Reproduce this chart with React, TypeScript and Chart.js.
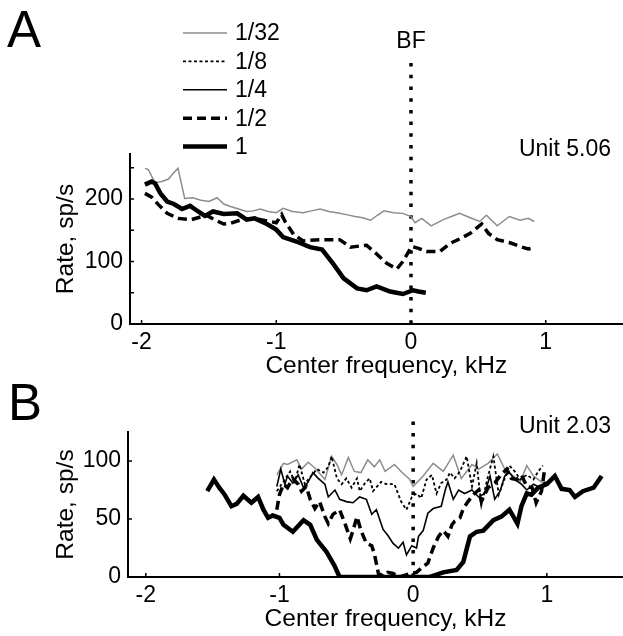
import React, { useEffect, useRef } from 'react';
import { Chart, registerables } from 'chart.js';

Chart.register(...registerables);

// ---------------- DATA ----------------
const SERIES_LABELS = ['1/32', '1/8', '1/4', '1/2', '1'];

// Panel A (Unit 5.06)
const A_F32_X = [-1.975, -1.95, -1.9, -1.85, -1.8, -1.77, -1.73, -1.68, -1.62, -1.56, -1.5, -1.44, -1.39, -1.34, -1.28, -1.22, -1.17, -1.12, -1.06, -1.0, -0.95, -0.88, -0.8, -0.74, -0.675, -0.61, -0.55, -0.48, -0.415, -0.36, -0.3, -0.25, -0.2, -0.13, -0.06, 0.0, 0.03, 0.08, 0.15, 0.24, 0.3, 0.36, 0.44, 0.51, 0.56, 0.64, 0.73, 0.81, 0.87, 0.915];
const A_F32_Y = [249, 247, 226, 228, 232, 240, 249, 201, 202, 198, 196, 202, 192, 188, 184, 180, 181, 184, 180, 178, 185, 180, 178, 181, 184, 180, 178, 175, 172, 170, 166, 174, 181, 178, 177, 172, 162, 169, 157, 167, 172, 177, 170, 164, 174, 157, 172, 166, 169, 164];

const A_F8_X: number[] = [];
const A_F8_Y: number[] = [];
const A_F4_X: number[] = [];
const A_F4_Y: number[] = [];

const A_F2_X = [-1.975, -1.925, -1.875, -1.81, -1.73, -1.63, -1.52, -1.45, -1.39, -1.34, -1.245, -1.16, -1.07, -1.0, -0.96, -0.935, -0.87, -0.8, -0.675, -0.53, -0.45, -0.33, -0.255, -0.18, -0.105, -0.06, 0.005, 0.055, 0.115, 0.215, 0.29, 0.36, 0.44, 0.525, 0.575, 0.64, 0.735, 0.81, 0.87, 0.91];
const A_F2_Y = [209, 203, 191, 177, 169, 167, 174, 166, 160, 161, 168, 169, 165, 162, 175, 164, 143, 133, 135, 135, 123, 126, 112, 97, 88, 100, 124, 121, 116, 116, 129, 136, 145, 160, 145, 135, 130, 124, 120, 122];

const A_F1_X = [-1.975, -1.925, -1.9, -1.86, -1.81, -1.76, -1.7, -1.64, -1.58, -1.53, -1.47, -1.39, -1.29, -1.22, -1.16, -1.07, -1.0, -0.95, -0.85, -0.75, -0.66, -0.58, -0.5, -0.4, -0.33, -0.255, -0.155, -0.06, 0.015, 0.055, 0.11];
const A_F1_Y = [223, 228, 225, 209, 196, 192, 184, 189, 180, 173, 180, 176, 177, 167, 169, 160, 151, 139, 132, 123, 119, 97, 73, 57, 54, 60, 52, 48, 54, 52, 50];

// Panel B (Unit 2.03)
const B_F32_X = [-1.02, -0.97, -0.94, -0.87, -0.835, -0.785, -0.735, -0.66, -0.61, -0.57, -0.535, -0.485, -0.44, -0.39, -0.34, -0.29, -0.25, -0.21, -0.14, -0.09, -0.025, 0.0, 0.075, 0.15, 0.225, 0.3, 0.36, 0.44, 0.49, 0.56, 0.63, 0.685, 0.75, 0.8, 0.85, 0.9, 0.96, 1.0];
const B_F32_Y = [88, 98, 97, 101, 93, 99, 94, 84, 104, 97, 88, 103, 91, 90, 101, 95, 101, 91, 97, 91, 84, 78, 87, 98, 91, 105, 85, 97, 93, 98, 106, 93, 87, 82, 96, 87, 82, 82];

const B_F8_X = [-1.02, -0.96, -0.92, -0.885, -0.85, -0.81, -0.785, -0.72, -0.67, -0.635, -0.61, -0.57, -0.535, -0.5, -0.46, -0.42, -0.4, -0.36, -0.325, -0.3, -0.24, -0.2, -0.14, -0.09, -0.05, -0.01, 0.025, 0.06, 0.1, 0.14, 0.175, 0.21, 0.25, 0.275, 0.31, 0.35, 0.4, 0.44, 0.475, 0.51, 0.56, 0.6, 0.64, 0.675, 0.72, 0.76, 0.8, 0.85, 0.9, 0.935, 0.97];
const B_F8_Y = [74, 84, 91, 82, 97, 80, 84, 93, 90, 95, 104, 85, 80, 85, 77, 85, 74, 81, 85, 74, 82, 80, 80, 65, 58, 69, 72, 68, 84, 88, 72, 81, 84, 90, 85, 91, 104, 78, 98, 62, 87, 104, 71, 82, 96, 91, 84, 88, 84, 91, 96];

const B_F4_X = [-1.02, -0.99, -0.96, -0.94, -0.9, -0.86, -0.82, -0.785, -0.75, -0.71, -0.66, -0.635, -0.585, -0.55, -0.5, -0.45, -0.4, -0.35, -0.31, -0.275, -0.225, -0.19, -0.15, -0.11, -0.075, -0.05, -0.01, 0.025, 0.04, 0.075, 0.11, 0.15, 0.21, 0.24, 0.26, 0.3, 0.34, 0.385, 0.44, 0.49, 0.535, 0.575, 0.61, 0.65, 0.685, 0.72, 0.76, 0.81, 0.85, 0.9, 0.95, 0.985];
const B_F4_Y = [78, 93, 80, 87, 81, 88, 77, 82, 90, 85, 80, 69, 75, 67, 65, 64, 69, 67, 54, 58, 41, 36, 29, 25, 30, 19, 27, 25, 35, 40, 55, 59, 61, 75, 82, 67, 75, 72, 75, 69, 72, 87, 67, 74, 87, 90, 84, 80, 75, 80, 77, 82];

const B_F2_X = [-1.02, -1.0, -0.97, -0.94, -0.9, -0.86, -0.835, -0.8, -0.77, -0.735, -0.7, -0.66, -0.635, -0.6, -0.55, -0.51, -0.47, -0.45, -0.42, -0.39, -0.35, -0.31, -0.29, -0.26, -0.225, -0.19, -0.15, -0.1, -0.025, 0.025, 0.075, 0.11, 0.15, 0.19, 0.225, 0.26, 0.29, 0.31, 0.35, 0.375, 0.41, 0.45, 0.49, 0.51, 0.56, 0.61, 0.65, 0.7, 0.735, 0.775, 0.81, 0.85, 0.89, 0.92, 0.96, 0.985];
const B_F2_Y = [58, 71, 80, 77, 85, 80, 74, 78, 67, 59, 65, 52, 46, 54, 58, 46, 33, 40, 52, 40, 29, 27, 20, 3, 1, 4, 3, 0, 3, 4, 9, 12, 25, 35, 40, 35, 45, 48, 51, 59, 65, 71, 75, 65, 77, 81, 87, 93, 85, 84, 88, 78, 77, 64, 74, 94];

const B_F1_X = [-1.54, -1.49, -1.45, -1.41, -1.36, -1.32, -1.27, -1.21, -1.16, -1.12, -1.085, -1.05, -1.0, -0.97, -0.9, -0.82, -0.77, -0.72, -0.65, -0.62, -0.59, -0.55, -0.4, -0.2, 0.0, 0.125, 0.225, 0.325, 0.375, 0.425, 0.475, 0.525, 0.6, 0.66, 0.72, 0.78, 0.81, 0.85, 0.885, 0.935, 1.0, 1.06, 1.11, 1.17, 1.21, 1.27, 1.35, 1.41];
const B_F1_Y = [74, 84, 77, 71, 61, 63, 70, 64, 69, 58, 51, 53, 51, 45, 39, 49, 45, 32, 22, 16, 10, 0, 0, 0, 0, 0, 4, 6, 13, 35, 39, 40, 49, 52, 58, 46, 61, 72, 71, 77, 80, 87, 76, 75, 69, 74, 77, 87];

// BF marker line (x = 0), drawn from 0 to above the plot
const BF_X = 0;
const BF_SPAN_A = [0, 428];
const BF_SPAN_B = [0, 135];

// Axis ranges / ticks
const X_TICK_STEP = 1;
const A_Y_STEP = 50;
const A_Y_LABEL_EVERY = 100;
const B_Y_STEP = 50;

// ---------------- STYLES ----------------
const FONT_FAMILY = "'Liberation Sans', Arial, sans-serif";
const FONT_SIZE = 23;
const TITLE_SIZE = 24.5;
const STYLES = [
  { color: '#8c8c8c', width: 1.5, dash: [] as number[] },
  { color: '#000000', width: 1.8, dash: [3, 2.5] },
  { color: '#000000', width: 1.6, dash: [] as number[] },
  { color: '#000000', width: 3.5, dash: [9, 5] },
  { color: '#000000', width: 4.5, dash: [] as number[] },
];

function zip(xs: number[], ys: number[]) {
  return xs.map((x, i) => ({ x, y: ys[i] }));
}

function seriesDatasets(list: [number[], number[]][]) {
  return list.map(([xs, ys], i) => ({
    label: SERIES_LABELS[i],
    data: zip(xs, ys),
    borderColor: STYLES[i].color,
    borderWidth: STYLES[i].width,
    borderDash: STYLES[i].dash,
    pointRadius: 0,
    tension: 0,
    fill: false,
    order: 4 - i + 1,
  }));
}

function bfDataset(span: number[]) {
  return {
    label: 'BF',
    data: span.map((y) => ({ x: BF_X, y })),
    borderColor: '#000',
    borderWidth: 3.5,
    borderDash: [3.5, 8.2],
    pointRadius: 0,
    clip: false as any,
    order: 10,
  };
}

const inwardTicks = {
  id: 'inwardTicks',
  afterDatasetsDraw(chart: any) {
    const { ctx, chartArea } = chart;
    const x = chart.scales.x;
    const y = chart.scales.y;
    ctx.save();
    ctx.strokeStyle = '#000';
    ctx.lineWidth = 1.5;
    x.ticks.forEach((t: any) => {
      const px = x.getPixelForValue(t.value);
      ctx.beginPath();
      ctx.moveTo(px, chartArea.bottom);
      ctx.lineTo(px, chartArea.bottom - 4);
      ctx.stroke();
    });
    y.ticks.forEach((t: any) => {
      const py = y.getPixelForValue(t.value);
      ctx.beginPath();
      ctx.moveTo(chartArea.left, py);
      ctx.lineTo(chartArea.left + 4, py);
      ctx.stroke();
    });
    ctx.restore();
  },
};

const seriesLegend = {
  id: 'seriesLegend',
  afterDraw(chart: any, _args: any, opts: any) {
    if (!opts || !opts.show) return;
    const { ctx } = chart;
    const ds = chart.data.datasets.filter((d: any) => SERIES_LABELS.includes(d.label));
    ctx.save();
    ds.forEach((d: any, i: number) => {
      const yy = opts.y + i * opts.spacing;
      ctx.beginPath();
      ctx.strokeStyle = d.borderColor;
      ctx.lineWidth = d.borderWidth;
      ctx.setLineDash(d.borderDash || []);
      ctx.moveTo(opts.x, yy);
      ctx.lineTo(opts.x + opts.lineLen, yy);
      ctx.stroke();
      ctx.setLineDash([]);
      ctx.fillStyle = '#000';
      ctx.font = `${FONT_SIZE}px ${FONT_FAMILY}`;
      ctx.textBaseline = 'middle';
      ctx.textAlign = 'left';
      ctx.fillText(d.label, opts.x + opts.lineLen + 8, yy + 1);
    });
    ctx.restore();
  },
};

const tickFont = { family: FONT_FAMILY, size: FONT_SIZE };
const titleFont = { family: FONT_FAMILY, size: TITLE_SIZE };

function makeOptions(cfg: {
  xMin: number; xMax: number; yMax: number; yStep: number; yLabelEvery: number;
  yAxisWidth: number; xAxisHeight: number; padTop: number; padRight: number; padBottom: number;
  legend: boolean;
}) {
  return {
    animation: false as const,
    responsive: false,
    events: [] as any[],
    layout: { padding: { left: 0, right: cfg.padRight, top: cfg.padTop, bottom: cfg.padBottom } },
    plugins: {
      legend: { display: false },
      tooltip: { enabled: false },
      seriesLegend: { show: cfg.legend, x: 183, y: 33, spacing: 28.4, lineLen: 44 },
    },
    scales: {
      x: {
        type: 'linear' as const,
        min: cfg.xMin,
        max: cfg.xMax,
        grid: { display: false, drawTicks: false },
        border: { display: true, color: '#000', width: 2 },
        ticks: {
          stepSize: X_TICK_STEP,
          includeBounds: false,
          autoSkip: false,
          maxRotation: 0,
          padding: 5,
          color: '#000',
          font: tickFont,
          callback: (v: any) => String(v),
        },
        title: {
          display: true,
          text: 'Center frequency, kHz',
          color: '#000',
          font: titleFont,
          padding: { top: 0, bottom: 0 },
        },
        afterFit: (s: any) => { s.height = cfg.xAxisHeight; },
      },
      y: {
        type: 'linear' as const,
        min: 0,
        max: cfg.yMax,
        grid: { display: false, drawTicks: false },
        border: { display: true, color: '#000', width: 2 },
        ticks: {
          stepSize: cfg.yStep,
          includeBounds: false,
          padding: 7,
          color: '#000',
          font: tickFont,
          callback: (v: any) => (v % cfg.yLabelEvery === 0 ? String(v) : ''),
        },
        title: {
          display: true,
          text: 'Rate, sp/s',
          color: '#000',
          font: titleFont,
          padding: { top: 52, bottom: 0 },
        },
        afterFit: (s: any) => { s.width = cfg.yAxisWidth; },
      },
    },
  };
}

const textStyle = (extra: React.CSSProperties): React.CSSProperties => ({
  position: 'absolute',
  fontFamily: FONT_FAMILY,
  color: '#000',
  lineHeight: 1,
  whiteSpace: 'nowrap',
  ...extra,
});

const CANVAS_W = 650;

export default function App() {
  const refA = useRef<HTMLCanvasElement | null>(null);
  const refB = useRef<HTMLCanvasElement | null>(null);

  useEffect(() => {
    const chartA = new Chart(refA.current as HTMLCanvasElement, {
      type: 'line',
      data: {
        datasets: [
          ...seriesDatasets([
            [A_F32_X, A_F32_Y],
            [A_F8_X, A_F8_Y],
            [A_F4_X, A_F4_Y],
            [A_F2_X, A_F2_Y],
            [A_F1_X, A_F1_Y],
          ]),
          bfDataset(BF_SPAN_A),
        ] as any,
      },
      options: makeOptions({
        xMin: -2.086, xMax: 1.72, yMax: 272, yStep: A_Y_STEP, yLabelEvery: A_Y_LABEL_EVERY,
        yAxisWidth: 130, xAxisHeight: 57, padTop: 154, padRight: 7.3, padBottom: 0, legend: true,
      }) as any,
      plugins: [inwardTicks, seriesLegend],
    });

    const chartB = new Chart(refB.current as HTMLCanvasElement, {
      type: 'line',
      data: {
        datasets: [
          ...seriesDatasets([
            [B_F32_X, B_F32_Y],
            [B_F8_X, B_F8_Y],
            [B_F4_X, B_F4_Y],
            [B_F2_X, B_F2_Y],
            [B_F1_X, B_F1_Y],
          ]),
          bfDataset(BF_SPAN_B),
        ] as any,
      },
      options: makeOptions({
        xMin: -2.133, xMax: 1.72, yMax: 125, yStep: B_Y_STEP, yLabelEvery: B_Y_STEP,
        yAxisWidth: 128, xAxisHeight: 57, padTop: 51, padRight: 6.9, padBottom: 2, legend: false,
      }) as any,
      plugins: [inwardTicks],
    });

    return () => {
      chartA.destroy();
      chartB.destroy();
    };
  }, []);

  return (
    <div style={{ position: 'absolute', left: 0, top: 0, width: 623, height: 636, background: '#fff', overflow: 'hidden' }}>
      <canvas ref={refA} width={CANVAS_W} height={381} style={{ position: 'absolute', left: 0, top: 0, width: CANVAS_W, height: 381 }} />
      <canvas ref={refB} width={CANVAS_W} height={255} style={{ position: 'absolute', left: 0, top: 381, width: CANVAS_W, height: 255 }} />
      <div style={textStyle({ left: 7, top: 4, fontSize: 51 })}>A</div>
      <div style={textStyle({ left: 8, top: 377, fontSize: 51 })}>B</div>
      <div style={textStyle({ left: 411, top: 29, fontSize: FONT_SIZE, transform: 'translateX(-50%)' })}>BF</div>
      <div style={textStyle({ right: 12, top: 137, fontSize: FONT_SIZE })}>Unit 5.06</div>
      <div style={textStyle({ right: 12, top: 414, fontSize: FONT_SIZE })}>Unit 2.03</div>
    </div>
  );
}
